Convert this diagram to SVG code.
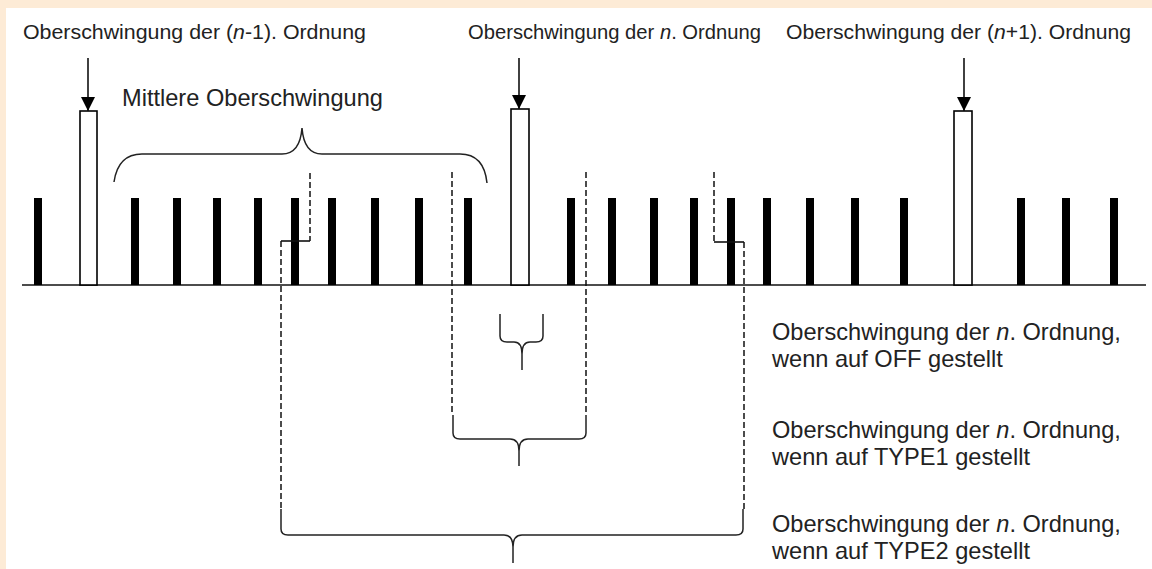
<svg xmlns="http://www.w3.org/2000/svg" width="1152" height="569" viewBox="0 0 1152 569">
<defs>
<style>
.t{font-family:"Liberation Sans",Arial,sans-serif;fill:#222;}
.top{font-size:20.5px;}
.big{font-size:23.6px;}
.bar{fill:#000;}
.box{fill:#fff;stroke:#000;stroke-width:1.6;}
.ln{fill:none;stroke:#111;stroke-width:1.6;}
.dash{fill:none;stroke:#111;stroke-width:1.5;stroke-dasharray:6 3;}
.br{fill:none;stroke:#222;stroke-width:1.5;}
</style>
<marker id="ah" viewBox="0 0 10 10" refX="10" refY="5" markerWidth="14" markerHeight="14" markerUnits="userSpaceOnUse" orient="auto">
<path d="M0,0 L10,5 L0,10 Z" fill="#000"/>
</marker>
</defs>
<rect x="0" y="0" width="1152" height="569" fill="#fdebd6"/>
<rect x="6" y="8" width="1146" height="561" fill="#fff"/>

<g id="baseline"><line class="ln" x1="22" y1="285" x2="1146" y2="285"/></g>

<g id="bars">
<rect class="bar" x="34" y="198" width="8" height="87"/>
<rect class="bar" x="131" y="198" width="8" height="87"/>
<rect class="bar" x="173" y="198" width="8" height="87"/>
<rect class="bar" x="213" y="198" width="8" height="87"/>
<rect class="bar" x="254" y="198" width="8" height="87"/>
<rect class="bar" x="291" y="198" width="8" height="87"/>
<rect class="bar" x="328" y="198" width="8" height="87"/>
<rect class="bar" x="371" y="198" width="8" height="87"/>
<rect class="bar" x="415" y="198" width="8" height="87"/>
<rect class="bar" x="464" y="198" width="8" height="87"/>
<rect class="bar" x="567" y="198" width="8" height="87"/>
<rect class="bar" x="608" y="198" width="8" height="87"/>
<rect class="bar" x="650" y="198" width="8" height="87"/>
<rect class="bar" x="690" y="198" width="8" height="87"/>
<rect class="bar" x="727" y="198" width="8" height="87"/>
<rect class="bar" x="763" y="198" width="8" height="87"/>
<rect class="bar" x="806" y="198" width="8" height="87"/>
<rect class="bar" x="851" y="198" width="8" height="87"/>
<rect class="bar" x="900" y="198" width="8" height="87"/>
<rect class="bar" x="1017" y="198" width="8" height="87"/>
<rect class="bar" x="1062" y="198" width="8" height="87"/>
<rect class="bar" x="1110" y="198" width="8" height="87"/>
</g>

<g id="harm-n-minus-1">
<rect class="box" x="80" y="111" width="17" height="174"/>
<text class="t top" x="23" y="39" textLength="343" lengthAdjust="spacingAndGlyphs">Oberschwingung der (<tspan font-style="italic">n</tspan>-1). Ordnung</text>
</g>
<g id="harm-n">
<rect class="box" x="511" y="109" width="18" height="176"/>
<text class="t" style="font-size:20.2px" x="468" y="39">Oberschwingung der <tspan font-style="italic">n</tspan>. Ordnung</text>
</g>
<g id="harm-n-plus-1">
<rect class="box" x="954" y="111" width="18" height="174"/>
<text class="t top" x="786" y="39" textLength="345" lengthAdjust="spacingAndGlyphs">Oberschwingung der (<tspan font-style="italic">n</tspan>+1). Ordnung</text>
</g>

<g id="mittlere">
<text class="t big" x="122" y="106">Mittlere Oberschwingung</text>
<path class="br" d="M114,182 Q118,154 142,154 H282 Q300,154 302,128 Q304,154 322,154 H460 Q484,154 487,183"/>
</g>

<g id="connectors">
<line class="ln" x1="88" y1="58" x2="88" y2="111" marker-end="url(#ah)"/>
<line class="ln" x1="519" y1="58" x2="519" y2="109" marker-end="url(#ah)"/>
<line class="ln" x1="964" y1="58" x2="964" y2="111" marker-end="url(#ah)"/>
<path class="dash" d="M310,173 V241"/>
<path class="ln" d="M310,241 H281"/>
<path class="dash" d="M281,241 V509"/>
<path class="dash" d="M452,172 V415"/>
<path class="dash" d="M586,172 V415"/>
<path class="dash" d="M714,172 V242"/>
<path class="ln" d="M714,242 H744"/>
<path class="dash" d="M744,242 V509"/>
</g>

<g id="brace-off">
<path class="br" d="M500,314 V336 Q500,342 507,342 H514 Q522,342 522,354 V370 M543,314 V336 Q543,342 536,342 H530 Q522,342 522,354"/>
<text class="t big" x="772" y="340">Oberschwingung der <tspan font-style="italic">n</tspan>. Ordnung,</text>
<text class="t big" x="772" y="367">wenn auf OFF gestellt</text>
</g>
<g id="brace-type1">
<path class="br" d="M453,415 V433 Q453,439 460,439 H510 Q519,439 519,451 V466 M586,415 V433 Q586,439 579,439 H528 Q519,439 519,451"/>
<text class="t big" x="772" y="438">Oberschwingung der <tspan font-style="italic">n</tspan>. Ordnung,</text>
<text class="t big" x="772" y="465">wenn auf TYPE1 gestellt</text>
</g>
<g id="brace-type2">
<path class="br" d="M281,509 V529 Q281,535 288,535 H504 Q513,535 513,547 V563 M743,509 V529 Q743,535 736,535 H522 Q513,535 513,547"/>
<text class="t big" x="772" y="532">Oberschwingung der <tspan font-style="italic">n</tspan>. Ordnung,</text>
<text class="t big" x="772" y="559">wenn auf TYPE2 gestellt</text>
</g>
</svg>
